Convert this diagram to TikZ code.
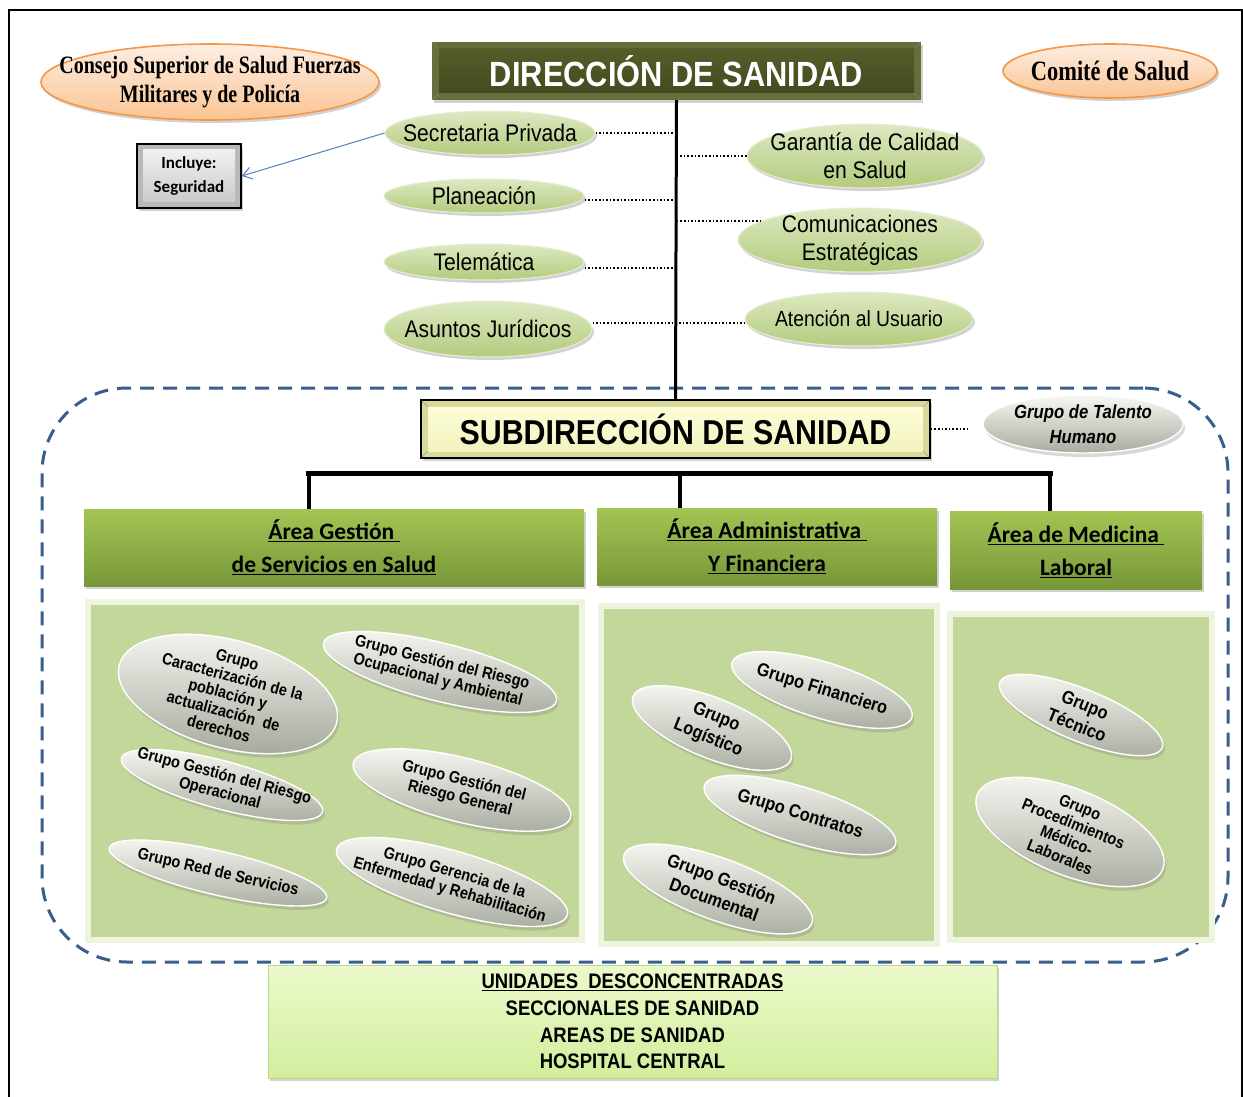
\documentclass[tikz,border=0pt]{standalone}
\usepackage{fontspec}
\setmainfont{Liberation Sans}
\newfontfamily\nar[FakeStretch=0.88]{Liberation Sans}
\newfontfamily\tnr[FakeStretch=0.80]{Liberation Serif}
\newfontfamily\carl{Carlito}
\usetikzlibrary{shapes.geometric,shadows,arrows.meta}
\definecolor{ellTop}{HTML}{DDE9C2}
\definecolor{ellBot}{HTML}{B3CB7E}
\definecolor{ellLine}{HTML}{E6EED2}
\definecolor{peachTop}{HTML}{FDEEE2}
\definecolor{peachBot}{HTML}{FAC493}
\definecolor{peachLine}{HTML}{F79646}
\definecolor{pillTop}{HTML}{F8F8F3}
\definecolor{pillBot}{HTML}{A8AC9F}
\definecolor{contFill}{HTML}{C4D79B}
\definecolor{contLine}{HTML}{EEF4DE}
\definecolor{areaTop}{HTML}{A3C553}
\definecolor{areaBot}{HTML}{779738}
\definecolor{dashCol}{HTML}{3A5E8C}
\definecolor{dirOut}{HTML}{666F3C}
\definecolor{dirInTop}{HTML}{56602A}
\definecolor{dirInBot}{HTML}{40481F}
\definecolor{subOut}{HTML}{D9D99C}
\definecolor{subInTop}{HTML}{FFFFDC}
\definecolor{subInBot}{HTML}{F1F1BA}
\definecolor{botTop}{HTML}{ECF9CC}
\definecolor{botBot}{HTML}{D2EE9C}
\definecolor{botLine}{HTML}{B9D88A}
\definecolor{arrowCol}{HTML}{4F81BD}
\begin{document}
\begin{tikzpicture}[x=1pt,y=-1pt,
  shad/.style={drop shadow={shadow xshift=2pt,shadow yshift=-3pt,opacity=0.35}},
  topell/.style={ellipse,inner sep=0pt,draw=ellLine,line width=1pt,top color=ellTop,bottom color=ellBot,shad},
  toptxt/.style={inner sep=0pt,align=center,font=\nar\fontsize{24}{28}\selectfont},
  peach/.style={ellipse,inner sep=0pt,draw=peachLine,line width=1.6pt,top color=peachTop,bottom color=peachBot,shad},
  peachtxt/.style={inner sep=0pt,align=center,font=\tnr\bfseries\fontsize{25}{29}\selectfont},
  pill/.style={ellipse,inner sep=0pt,draw=white,line width=1.4pt,top color=pillTop,bottom color=pillBot,
     drop shadow={shadow xshift=2pt,shadow yshift=-4pt,opacity=0.3}},
  pilltxt/.style={inner sep=0pt,align=center,font=\nar\bfseries\fontsize{16.5}{18}\selectfont},
  bigpilltxt/.style={inner sep=0pt,align=center,font=\nar\bfseries\fontsize{18.5}{22}\selectfont},
  areabox/.style={rectangle,inner sep=0pt,top color=areaTop,bottom color=areaBot,shad,align=center,
     font=\carl\bfseries\fontsize{23.5}{33}\selectfont},
  contbox/.style={rectangle,inner sep=0pt,fill=contFill,draw=contLine,line width=6pt},
  dots/.style={dotted,line width=1.6pt},
  trunk/.style={line width=3pt},
  bar/.style={line width=5pt},
  drop/.style={line width=4pt},
  zone/.style={rectangle,draw=dashCol,line width=3pt,dash pattern=on 14pt off 9pt,rounded corners=85pt},
  bevel/.style n args={4}{path picture={
     \shade[top color=#2,bottom color=#3] ([shift={(#1,#1)}]path picture bounding box.north west)
        rectangle ([shift={(-#1,-#1)}]path picture bounding box.south east);
     \draw[#4,line width=0.6pt] (path picture bounding box.north west) -- ++(#1,#1)
        (path picture bounding box.north east) -- ++(-#1,#1)
        (path picture bounding box.south west) -- ++(#1,-#1)
        (path picture bounding box.south east) -- ++(-#1,-#1);}}
]
\useasboundingbox (0,0) rectangle (1243,1097);
\fill[white] (0,0) rectangle (1243,1097);
\draw[line width=1.5pt] (9,1097) -- (9,10) -- (1242,10) -- (1242,1097);

% dashed zone
\node[zone,minimum width=1186,minimum height=574] (zone) at (635,675) {};

% top header
\node[rectangle,inner sep=0pt,fill=dirOut,minimum width=489,minimum height=58,shad,
      bevel={7}{dirInTop}{dirInBot}{black!50},text=white,
      font=\nar\bfseries\fontsize{35}{40}\selectfont] (dir) at (676.5,71) {DIRECCIÓN DE SANIDAD};

\node[peach,minimum width=338,minimum height=76] (con) at (210,82) {};
\node[peachtxt] (cont) at (con) {Consejo Superior de Salud Fuerzas\\Militares y de Policía};
\node[peach,minimum width=214,minimum height=54] (cmt) at (1110,71) {};
\node[peachtxt,font=\tnr\bfseries\fontsize{28}{30}\selectfont] (cmtt) at (cmt) {Comité de Salud};

\node[rectangle,inner sep=0pt,draw=black,line width=1.5pt,minimum width=104,minimum height=64,
      fill=gray!55,shad,bevel={6}{gray!8}{gray!45}{gray!60},align=center,
      font=\carl\bfseries\fontsize{17}{24}\selectfont] (inc) at (189,176) {Incluye:\\Seguridad};

% staff ellipses
\node[topell,minimum width=210,minimum height=44] (sec) at (490,133) {};
\node[toptxt] (sect) at (sec) {Secretaria Privada};
\node[topell,minimum width=200,minimum height=34] (pla) at (484,196) {};
\node[toptxt] (plat) at (pla) {Planeación};
\node[topell,minimum width=200,minimum height=36] (tel) at (484,262) {};
\node[toptxt] (telt) at (tel) {Telemática};
\node[topell,minimum width=208,minimum height=56] (asu) at (488,329) {};
\node[toptxt] (asut) at (asu) {Asuntos Jurídicos};
\node[topell,minimum width=236,minimum height=64] (gar) at (865,156) {};
\node[toptxt] (gart) at (gar) {Garantía de Calidad\\en Salud};
\node[topell,minimum width=244,minimum height=64] (cmn) at (860,240) {};
\node[toptxt] (cmnt) at (cmn) {Comunicaciones\\Estratégicas};
\node[topell,minimum width=228,minimum height=54] (ate) at (859,319) {};
\node[toptxt,font=\nar\fontsize{22}{25}\selectfont] (atet) at (ate) {Atención al Usuario};

% subdireccion
\node[rectangle,inner sep=0pt,draw=black,line width=1.5pt,fill=subOut,minimum width=509,minimum height=58,shad,
      bevel={7}{subInTop}{subInBot}{black!40},
      font=\nar\bfseries\fontsize{34.5}{40}\selectfont] (sub) at (675.5,429) {SUBDIRECCIÓN DE SANIDAD};
\node[pill,minimum width=200,minimum height=58] (tal) at (1083,424) {};
\node[inner sep=0pt,align=center,font=\nar\bfseries\itshape\fontsize{19}{25}\selectfont] (talt) at (tal) {Grupo de Talento\\Humano};

% connectors top
\draw[trunk] (dir.south) -- (sub.north);
\draw[dots] (sec.east) -- (sec.east -| dir.south);
\draw[dots] ([yshift=-4pt]pla.east) -- ([yshift=-4pt]pla.east -| dir.south);
\draw[dots] ([yshift=-6pt]tel.east) -- ([yshift=-6pt]tel.east -| dir.south);
\draw[dots] ([yshift=6pt]asu.east) -- ([yshift=6pt]asu.east -| ate.west);
\draw[dots] (gar.west) -- (gar.west -| dir.south);
\draw[dots] (cmn.169) -- (cmn.169 -| dir.south);
\draw[-{Straight Barb[length=9pt,width=12pt]},draw=arrowCol,line width=1pt] (sec.west) -- (inc.east);
\draw[dots,shorten >=12pt] (sub.east) -- (sub.east -| tal.west);

% areas
\node[areabox,minimum width=500,minimum height=77] (a1) at (334,547.5) {\underline{Área Gestión }\\\underline{de Servicios en Salud}};
\node[areabox,minimum width=340,minimum height=77] (a2) at (767,546.5) {\underline{Área Administrativa }\\\underline{Y Financiera}};
\node[areabox,minimum width=252,minimum height=78] (a3) at (1076,550) {\underline{Área de Medicina }\\\underline{Laboral}};

\coordinate (b1) at (309,473);
\coordinate (b2) at (680,473);
\coordinate (b3) at (1050,473);
\draw[bar] ([xshift=-3pt]b1) -- ([xshift=3pt]b3);
\draw[drop] (b1) -- (b1 |- a1.north);
\draw[drop] (b2) -- (b2 |- a2.north);
\draw[drop] (b3) -- (b3 |- a3.north);

% containers
\node[contbox,minimum width=494,minimum height=338] (c1) at (335,771) {};
\node[contbox,minimum width=336,minimum height=338] (c2) at (769,775) {};
\node[contbox,minimum width=262,minimum height=326] (c3) at (1081,777) {};

% pills left
\node[pill,minimum width=225,minimum height=108,rotate=-15] (p1) at (228,694) {};
\node[pilltxt,rotate=-15] (p1t) at (p1) {Grupo\\Caracterización de la\\población y\\actualización\ \ de\\derechos};
\node[pill,minimum width=240,minimum height=58,rotate=-14] (p2) at (440,672) {};
\node[pilltxt,rotate=-14] (p2t) at (p2) {Grupo Gestión del Riesgo\\Ocupacional y Ambiental};
\node[pill,minimum width=208,minimum height=48,rotate=-15] (p3) at (222,785) {};
\node[pilltxt,rotate=-15] (p3t) at (p3) {Grupo Gestión del Riesgo\\Operacional};
\node[pill,minimum width=224,minimum height=64,rotate=-14] (p4) at (462,790) {};
\node[pilltxt,rotate=-14] (p4t) at (p4) {Grupo Gestión del\\Riesgo General};
\node[pill,minimum width=223,minimum height=44,rotate=-13] (p5) at (218,873) {};
\node[pilltxt,rotate=-13] (p5t) at (p5) {Grupo Red de Servicios};
\node[pill,minimum width=240,minimum height=62,rotate=-16] (p6) at (452,882) {};
\node[pilltxt,rotate=-16] (p6t) at (p6) {Grupo Gerencia de la\\Enfermedad y Rehabilitación};

% pills middle
\node[pill,minimum width=188,minimum height=56,rotate=-17] (m1) at (822,690) {};
\node[bigpilltxt,rotate=-17] (m1t) at (m1) {Grupo Financiero};
\node[pill,minimum width=170,minimum height=60,rotate=-22] (m2) at (712,728) {};
\node[bigpilltxt,rotate=-22] (m2t) at (m2) {Grupo\\Logístico};
\node[pill,minimum width=200,minimum height=56,rotate=-17] (m3) at (800,815) {};
\node[bigpilltxt,rotate=-17] (m3t) at (m3) {Grupo Contratos};
\node[pill,minimum width=200,minimum height=62,rotate=-20] (m4) at (718,889) {};
\node[bigpilltxt,rotate=-20] (m4t) at (m4) {Grupo Gestión\\Documental};

% pills right
\node[pill,minimum width=175,minimum height=52,rotate=-22] (r1) at (1081,715) {};
\node[bigpilltxt,rotate=-22] (r1t) at (r1) {Grupo\\Técnico};
\node[pill,minimum width=200,minimum height=86,rotate=-22] (r2) at (1070,832) {};
\node[pilltxt,rotate=-22] (r2t) at (r2) {Grupo\\Procedimientos\\Médico-\\Laborales};

% bottom
\node[rectangle,inner sep=0pt,draw=botLine,line width=0.6pt,top color=botTop,bottom color=botBot,shad,
      minimum width=729,minimum height=113,align=center,
      font=\nar\bfseries\fontsize{21}{26.7}\selectfont] (bot) at (632.5,1021.5)
      {\underline{UNIDADES\ \ DESCONCENTRADAS}\\SECCIONALES DE SANIDAD\\AREAS DE SANIDAD\\HOSPITAL CENTRAL};
\end{tikzpicture}
\end{document}
